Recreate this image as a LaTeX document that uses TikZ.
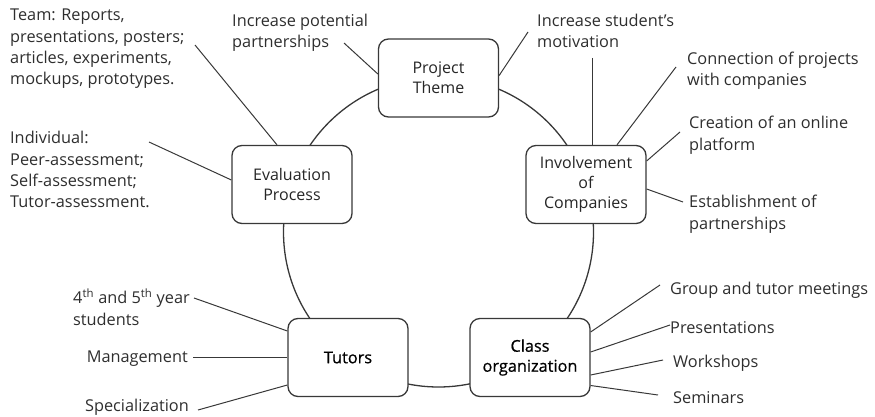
\documentclass[tikz,border=0pt]{standalone}
\usepackage{fontspec}
\setmainfont{Open Sans}
\newfontfamily\heavyface{Open Sans}[FakeBold=0.6]
\begin{document}
\begin{tikzpicture}[x=1pt,y=-1pt,
  ink/.style={draw=black!78, line width=1pt},
  box/.style={ink, line width=1.3pt, fill=white, rounded corners=10pt,
    minimum width=120pt, minimum height=78pt, align=center, inner sep=2pt,
    font=\fontsize{16}{20}\selectfont, text=black!85},
  strongbox/.style={box, text=black, font=\heavyface\fontsize{16.3}{20}\selectfont},
  label/.style={align=left, inner sep=0pt, anchor=base west,
    font=\fontsize{16.3}{21.2}\selectfont, text=black!82},
  link/.style={ink}]
\useasboundingbox (0,0) rectangle (875,417);

% ring joining the five topics
\draw[ink, line width=1.3pt] (438.5,232) circle[radius=155];

% topic boxes
\node[box] (theme) at (438.5,78) {Project\\Theme};
\node[box] (comp) at (586,184.5) {Involvement\\of\\Companies};
\node[box] (eval) at (292,184.5) {Evaluation\\Process};
\node[strongbox] (tutors) at (348,357.5) {Tutors};
\node[strongbox] (class) at (530,357.5) {Class\\organization};

% labels (multi-line labels sit on the baseline of their last line)
\node[label] (team) at (10,84.6) {Team: Reports,\\presentations, posters;\\articles, experiments,\\mockups, prototypes.};
\node[label] (indiv) at (10,207.5) {Individual:\\Peer-assessment;\\Self-assessment;\\Tutor-assessment.};
\node[label] (partner) at (232,48) {Increase potential\\partnerships};
\node[label] (motiv) at (537,48) {Increase student’s\\motivation};
\node[label] (connect) at (687,86) {Connection of projects\\with companies};
\node[label] (online) at (689,150) {Creation of an online\\platform};
\node[label] (establish) at (689,229) {Establishment of\\partnerships};
\node[label] (years) at (73,325) {4\textsuperscript{th} and 5\textsuperscript{th} year\\students};
\node[label, anchor=base east] (manage) at (188,362) {Management};
\node[label, anchor=base east] (special) at (189,411) {Specialization};
\node[label] (meet) at (670,294) {Group and tutor meetings};
\node[label] (present) at (670,333) {Presentations};
\node[label] (work) at (673,367) {Workshops};
\node[label] (seminar) at (673,403) {Seminars};

% free ends of the connectors, next to their labels
\coordinate (cTeam) at (195,45);
\coordinate (cIndiv) at (149,142);
\coordinate (cPartner) at (344,43);
\coordinate (cMotivA) at (528,32);
\coordinate (cMotivB) at (592,58);
\coordinate (cConnect) at (676,67);
\coordinate (cOnline) at (680,132);
\coordinate (cEstablish) at (683,202);
\coordinate (cYears) at (194,298);
\coordinate (cManage) at (193,357.5);
\coordinate (cSpecial) at (198,410);
\coordinate (cMeet) at (660,285);
\coordinate (cPresent) at (670,325);
\coordinate (cWork) at (663,360);
\coordinate (cSeminar) at (658,395);

% connectors
\draw[link] (cTeam) -- ([xshift=-15pt]eval.north);
\draw[link] (cIndiv) -- ([yshift=4.5pt]eval.west);
\draw[link] (cPartner) -- ([yshift=4pt]theme.west);
\draw[link] (cMotivA) -- ([yshift=2.5pt]theme.east);
\draw[link] (cMotivB) -- ([xshift=6pt]comp.north);
\draw[link] (cConnect) -- ([xshift=31pt]comp.north);
\draw[link] (cOnline) -- ([yshift=23.5pt]comp.east);
\draw[link] (cEstablish) -- ([yshift=-4.5pt]comp.east);
\draw[link] (cYears) -- ([yshift=26.5pt]tutors.west);
\draw[link] (cManage) -- (tutors.west);
\draw[link] (cSpecial) -- ([yshift=-27.5pt]tutors.west);
\draw[link] (cMeet) -- ([yshift=25.5pt]class.east);
\draw[link] (cPresent) -- ([yshift=5.5pt]class.east);
\draw[link] (cWork) -- ([yshift=-17.5pt]class.east);
\draw[link] (cSeminar) -- ([yshift=-28pt]class.east);
\end{tikzpicture}
\end{document}
